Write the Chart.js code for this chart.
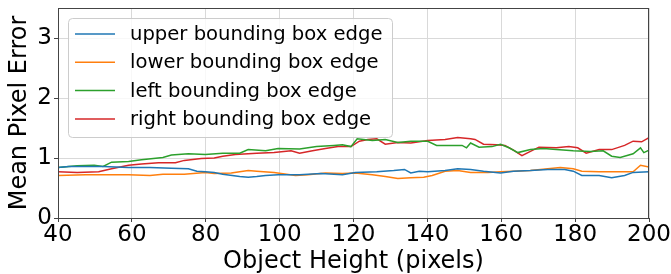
<!DOCTYPE html>
<html>
<head>
<meta charset="utf-8">
<script src="https://cdn.jsdelivr.net/npm/chart.js@4"></script>
<style>
  body { margin: 0; background: #fff; }
</style>
</head>
<body>
<canvas id="myChart" width="671" height="274"></canvas>
<script>
"use strict";
// values (object height in px -> mean pixel error)
const labels = ["upper bounding box edge", "lower bounding box edge", "left bounding box edge", "right bounding box edge"];
const colors = ["#1f77b4", "#ff7f0e", "#2ca02c", "#d62728"];
const xTicks = [40, 60, 80, 100, 120, 140, 160, 180, 200];
const yTicks = [0, 1, 2, 3];

const upperX = [40, 42.9, 47.5, 52.2, 59.1, 64.9, 70.7, 75.3, 77.6, 79.9, 82.3, 84.6, 89.2, 91.5, 93.8, 96.2, 99.6, 105.4, 111.2, 117, 120.5, 126.3, 130.9, 133.8, 135.5, 137.8, 140.1, 144.8, 148.2, 151.7, 155.2, 159.8, 163.3, 167.9, 172.6, 177.2, 179.5, 181.8, 186.5, 189.9, 193.4, 195.7, 200];
const upperY = [0.84, 0.86, 0.86, 0.86, 0.84, 0.84, 0.83, 0.82, 0.78, 0.77, 0.76, 0.73, 0.69, 0.68, 0.69, 0.71, 0.72, 0.72, 0.74, 0.72, 0.76, 0.77, 0.79, 0.81, 0.75, 0.78, 0.77, 0.79, 0.82, 0.81, 0.78, 0.75, 0.78, 0.79, 0.81, 0.81, 0.78, 0.71, 0.71, 0.67, 0.71, 0.76, 0.77];

const lowerX = [40, 47.5, 53.3, 59.1, 64.9, 68.4, 74.2, 79.9, 82.3, 86.9, 91.5, 93.8, 98.5, 104.3, 107.7, 112.4, 117, 120.5, 125.1, 128.6, 132, 135.5, 139, 141.3, 144.8, 148.2, 151.7, 156.4, 159.8, 163.3, 167.9, 172.6, 176, 179.5, 181.8, 186.5, 191.1, 195.7, 197.7, 200];
const lowerY = [0.71, 0.72, 0.72, 0.72, 0.71, 0.73, 0.73, 0.76, 0.74, 0.75, 0.79, 0.78, 0.76, 0.71, 0.72, 0.75, 0.74, 0.75, 0.72, 0.69, 0.66, 0.67, 0.68, 0.71, 0.78, 0.79, 0.76, 0.76, 0.77, 0.78, 0.79, 0.82, 0.84, 0.82, 0.78, 0.77, 0.77, 0.77, 0.88, 0.85];

const leftX = [40, 45.2, 49.8, 52.2, 54.5, 59.1, 62.6, 68.4, 70.7, 75.3, 79.9, 84.6, 89.2, 91.5, 96.2, 99.6, 105.4, 110, 114.7, 117, 119.3, 121, 125.1, 128.6, 132, 135.5, 140.1, 142.5, 147.1, 149.4, 150.6, 151.7, 154, 157.5, 159.8, 162.1, 164.5, 167.9, 171.4, 174.9, 179.5, 184.1, 187.6, 189.9, 192.2, 195.7, 197.7, 198.6, 200];
const leftY = [0.84, 0.87, 0.88, 0.86, 0.93, 0.94, 0.97, 1.01, 1.05, 1.07, 1.06, 1.08, 1.08, 1.14, 1.12, 1.16, 1.15, 1.19, 1.21, 1.22, 1.19, 1.32, 1.29, 1.31, 1.26, 1.28, 1.28, 1.21, 1.21, 1.21, 1.17, 1.25, 1.18, 1.19, 1.23, 1.17, 1.09, 1.14, 1.16, 1.14, 1.12, 1.11, 1.12, 1.03, 1.01, 1.07, 1.17, 1.09, 1.13];

const rightX = [40, 45.2, 51, 54.5, 59.1, 62.6, 67.2, 71.8, 74.2, 78.8, 82.3, 84.6, 88, 93.8, 98.5, 103.1, 105.4, 108.9, 112.4, 115.8, 119.3, 121.6, 123.9, 126.3, 128.6, 132, 135.5, 140.1, 144.8, 148.2, 151.7, 152.9, 155.2, 158.7, 161, 163.3, 165.6, 167.9, 170.2, 174.9, 178.3, 180.7, 183, 186.5, 189.9, 193.4, 195.7, 198, 200];
const rightY = [0.77, 0.76, 0.77, 0.82, 0.88, 0.90, 0.92, 0.92, 0.96, 0.99, 1.00, 1.03, 1.06, 1.08, 1.09, 1.12, 1.08, 1.12, 1.16, 1.19, 1.19, 1.28, 1.31, 1.32, 1.23, 1.26, 1.25, 1.29, 1.31, 1.34, 1.32, 1.31, 1.23, 1.22, 1.21, 1.13, 1.04, 1.11, 1.18, 1.17, 1.19, 1.17, 1.08, 1.14, 1.14, 1.21, 1.28, 1.27, 1.34];

function zip(xs, ys) {
  return xs.map((x, i) => ({ x: x, y: ys[i] }));
}

const series = [zip(upperX, upperY), zip(lowerX, lowerY), zip(leftX, leftY), zip(rightX, rightY)];

Chart.defaults.font.family = "'DejaVu Sans', sans-serif";
Chart.defaults.color = "#000";

// top/right spines + matplotlib-ish legend box inside the axes
const framePlugin = {
  id: "frame",
  afterDatasetsDraw(chart) {
    const c = chart.ctx;
    const a = chart.chartArea;
    c.save();
    c.strokeStyle = "#444";
    c.lineWidth = 1;
    c.strokeRect(a.left + 0.5, a.top + 0.5, a.right - a.left - 1, a.bottom - a.top);

    const bx = a.left + 10, by = a.top + 10;
    c.beginPath();
    c.roundRect(bx + 0.5, by + 0.5, 324, 119, 4);
    c.fillStyle = "rgba(255,255,255,0.8)";
    c.fill();
    c.strokeStyle = "#cccccc";
    c.stroke();

    c.font = "19.6px 'DejaVu Sans'";
    c.textBaseline = "middle";
    chart.data.datasets.forEach((ds, i) => {
      const y = by + 16 + i * 28.3;
      c.strokeStyle = ds.borderColor;
      c.lineWidth = 1.5;
      c.beginPath();
      c.moveTo(bx + 7, y);
      c.lineTo(bx + 47, y);
      c.stroke();
      c.fillStyle = "#000";
      c.fillText(ds.label, bx + 62, y + 1);
    });
    c.restore();
  },
};

const ctx = document.getElementById("myChart");
const myChart = new Chart(ctx, {
  type: "line",
  data: {
    datasets: series.map((pts, i) => ({
      label: labels[i],
      data: pts,
      borderColor: colors[i],
      backgroundColor: colors[i],
      borderWidth: 1.5,
      pointRadius: 0,
      tension: 0,
      fill: false,
    })),
  },
  options: {
    responsive: false,
    animation: false,
    devicePixelRatio: 1,
    layout: { padding: { top: 8, right: 22, left: 0, bottom: 0 } },
    plugins: { legend: { display: false }, tooltip: { enabled: false } },
    scales: {
      x: {
        type: "linear",
        min: 40,
        max: 200,
        afterBuildTicks: (scale) => { scale.ticks = xTicks.map((v) => ({ value: v })); },
        afterFit: (scale) => { scale.height = 56; scale.paddingRight = 0; scale.paddingLeft = 0; },
        ticks: { font: { size: 23 }, padding: -1, maxRotation: 0 },
        grid: { color: "#d9d9d9", tickColor: "#444", tickLength: 4 },
        border: { color: "#444" },
        title: { display: true, text: "Object Height (pixels)", font: { size: 24, lineHeight: 1.2 }, padding: { top: 0, bottom: -2 } },
      },
      y: {
        min: 0,
        max: 3.5,
        afterBuildTicks: (scale) => { scale.ticks = yTicks.map((v) => ({ value: v })); },
        afterFit: (scale) => { scale.width = 58; scale.paddingTop = 0; scale.paddingBottom = 0; },
        ticks: { font: { size: 23 }, padding: 2 },
        grid: { color: "#d9d9d9", tickColor: "#444", tickLength: 4 },
        border: { color: "#444" },
        title: { display: true, text: "Mean Pixel Error", font: { size: 24, lineHeight: 1.2 }, padding: { top: 5, bottom: 0 } },
      },
    },
  },
  plugins: [framePlugin],
});
</script>
</body>
</html>
